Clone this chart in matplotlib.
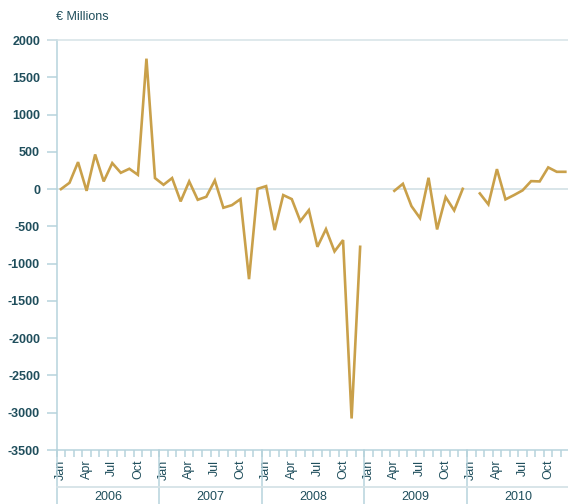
import numpy as np
import matplotlib.pyplot as plt

plt.rcParams['font.family'] = ['Liberation Sans', 'DejaVu Sans']
plt.rcParams['axes.unicode_minus'] = False

# monthly values, Jan 2006 - Dec 2010 (gaps = no data)
years = ['2006', '2007', '2008', '2009', '2010']
tick_months = ['Jan', 'Apr', 'Jul', 'Oct']
flows = [
    0, 85, 362, -23, 465, 103, 349, 219, 273, 192, 1750, 148,            # 2006
    58, 148, -165, 103, -143, -103, 117, -250, -215, -134, -1208, 4,      # 2007
    40, -550, -80, -134, -430, -282, -774, -537, -836, -684, -3077, -774, # 2008
    np.nan, np.nan, np.nan, -23, 71, -228, -389, 152, -541, -107, -286, 4, # 2009
    np.nan, -58, -205, 268, -138, -80, -17, 107, 103, 291, 232, 232,      # 2010
]

teal = '#1f4e5c'
axis_col = '#b7d3dc'
grid_col = '#d6e3e7'
gold = '#c9a04a'

fig = plt.figure(figsize=(5.68, 5.04), dpi=100)
ax = fig.add_axes([0.0998, 0.1071, 0.9030, 0.8135])

x = np.arange(len(flows)) + 0.5
ax.plot(x, flows, color=gold, lw=1.9, solid_joinstyle='miter', zorder=3)

ax.set_xlim(0, len(flows))
ax.set_ylim(-3500, 2000)
ax.set_yticks(range(-3500, 2001, 500))
ax.axhline(0, color=grid_col, lw=1.3, zorder=1)

ax.spines['right'].set_visible(False)
ax.spines['left'].set_color(axis_col)
ax.spines['bottom'].set_color(axis_col)
ax.spines['top'].set_color(grid_col)
for s in ['left', 'bottom', 'top']:
    ax.spines[s].set_linewidth(1.1)

ax.tick_params(axis='y', direction='out', length=7, width=1.1, color=axis_col,
               labelcolor=teal, labelsize=9, pad=5)
for lab in ax.get_yticklabels():
    lab.set_fontweight('bold')

# month ticks: marks at month boundaries, labels at month centres
ax.set_xticks(np.arange(0, len(flows) + 1), minor=True)
lab_pos = [i + 0.5 for i in range(len(flows)) if i % 3 == 0]
lab_txt = [tick_months[(i % 12) // 3] for i in range(len(flows)) if i % 3 == 0]
ax.set_xticks(lab_pos)
ax.set_xticklabels(lab_txt, rotation=90)
ax.tick_params(axis='x', which='major', length=0, pad=7, labelcolor=teal, labelsize=9)
ax.tick_params(axis='x', which='minor', direction='out', length=5, width=1.1, color=axis_col)

# year band below the month labels
tr = ax.get_xaxis_transform()
for k, yr in enumerate(years):
    ax.plot([k * 12, k * 12], [0, -0.135], transform=tr, color=axis_col, lw=1.1, clip_on=False)
    ax.text(k * 12 + 6, -0.1145, yr, transform=tr, ha='center', va='center',
            color=teal, fontsize=9)
ax.plot([0, len(flows)], [-0.0895, -0.0895], transform=tr, color=grid_col, lw=1.3, clip_on=False)
# top rule reaches out over the tick marks like in the original
ax.plot([-0.016, 0], [1, 1], transform=ax.transAxes, color=grid_col, lw=1.1, clip_on=False)

fig.text(0.0986, 0.966, '€ Millions', color=teal, fontsize=9, va='center', ha='left')

fig.savefig('out.png', dpi=100)
